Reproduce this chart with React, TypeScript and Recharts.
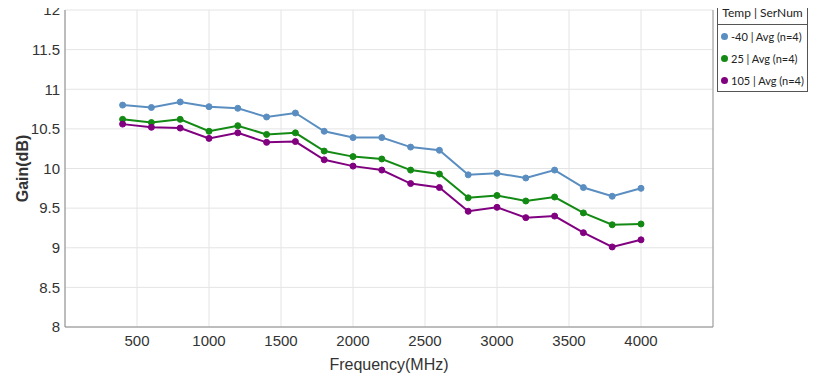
import { LineChart, Line, XAxis, YAxis, CartesianGrid, ReferenceLine, Legend } from 'recharts'

const frequencies = [400, 600, 800, 1000, 1200, 1400, 1600, 1800, 2000, 2200, 2400, 2600, 2800, 3000, 3200, 3400, 3600, 3800, 4000]
const gainMinus40 = [10.8, 10.77, 10.84, 10.78, 10.76, 10.65, 10.7, 10.47, 10.39, 10.39, 10.27, 10.23, 9.92, 9.94, 9.88, 9.98, 9.76, 9.65, 9.75]
const gain25 = [10.62, 10.58, 10.62, 10.47, 10.54, 10.43, 10.45, 10.22, 10.15, 10.12, 9.98, 9.93, 9.63, 9.66, 9.59, 9.64, 9.44, 9.29, 9.3]
const gain105 = [10.56, 10.52, 10.51, 10.38, 10.45, 10.33, 10.34, 10.11, 10.03, 9.98, 9.81, 9.76, 9.46, 9.51, 9.38, 9.4, 9.19, 9.01, 9.1]
const xTicks = [500, 1000, 1500, 2000, 2500, 3000, 3500, 4000]
const yTicks = [8, 8.5, 9, 9.5, 10, 10.5, 11, 11.5, 12]

const seriesInfo = [
  { key: 'm40', name: '-40 | Avg (n=4)', color: '#5b8ec0' },
  { key: 't25', name: '25 | Avg (n=4)', color: '#138a13' },
  { key: 't105', name: '105 | Avg (n=4)', color: '#800080' },
]

const data = frequencies.map((f, i) => ({
  freq: f,
  m40: gainMinus40[i],
  t25: gain25[i],
  t105: gain105[i],
}))

const LegendBox = () => (
  <div
    style={{
      position: 'absolute',
      left: 717,
      top: 1,
      width: 89,
      border: '1px solid #555',
      background: '#fff',
      fontFamily: 'Lato, sans-serif',
      fontSize: 11,
      color: '#222',
      whiteSpace: 'nowrap',
    }}
  >
    <div style={{ textAlign: 'center', height: 22, lineHeight: '22px', fontSize: 12, borderBottom: '1px solid #555' }}>Temp | SerNum</div>
    {seriesInfo.map((s) => (
      <div key={s.key} style={{ display: 'flex', alignItems: 'center', height: 22, paddingLeft: 3 }}>
        <span
          style={{
            display: 'inline-block',
            width: 7,
            height: 7,
            borderRadius: '50%',
            background: s.color,
            marginRight: 3,
            flexShrink: 0,
          }}
        />
        <span>{s.name}</span>
      </div>
    ))}
  </div>
)

export default function App() {
  return (
    <div style={{ position: 'relative', width: 835, height: 386, margin: -8, background: '#fff' }}>
      <LineChart
        width={835}
        height={386}
        data={data}
        margin={{ top: 10, right: 122, bottom: 14, left: 0 }}
        style={{ fontFamily: '"Liberation Sans", Arial, sans-serif' }}
      >
        <CartesianGrid stroke="#e4e4e4" horizontal vertical />
        <XAxis
          dataKey="freq"
          type="number"
          domain={[0, 4500]}
          ticks={xTicks}
          height={45}
          tickLine={false}
          axisLine={{ stroke: '#888' }}
          tick={{ fill: '#333', fontSize: 15 }}
          label={{ value: 'Frequency(MHz)', position: 'insideBottom', offset: 2, fill: '#333', fontSize: 16 }}
        />
        <YAxis
          type="number"
          domain={[8, 12]}
          ticks={yTicks}
          width={65}
          tickLine={false}
          tickSize={3}
          axisLine={{ stroke: '#888' }}
          tick={{ fill: '#333', fontSize: 15 }}
          label={{
            value: 'Gain(dB)',
            angle: -90,
            position: 'insideLeft',
            offset: 22,
            style: { textAnchor: 'middle', fill: '#333', fontSize: 16, fontWeight: 600 },
          }}
        />
        <ReferenceLine x={4500} stroke="#999" />
        <Legend content={() => null} />
        {seriesInfo.map((s) => (
          <Line
            key={s.key}
            type="linear"
            dataKey={s.key}
            name={s.name}
            stroke={s.color}
            strokeWidth={2}
            dot={{ r: 3, fill: s.color, stroke: s.color, strokeWidth: 1 }}
            isAnimationActive={false}
          />
        ))}
      </LineChart>
      <LegendBox />
    </div>
  )
}
